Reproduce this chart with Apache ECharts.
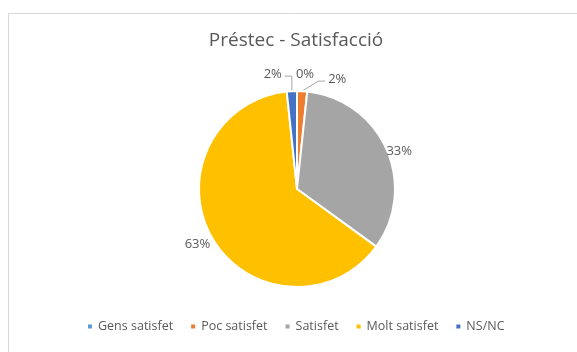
<!DOCTYPE html>
<html>
<head>
<meta charset="utf-8">
<script src="https://cdn.jsdelivr.net/npm/echarts@6/dist/echarts.min.js"></script>
<style>
  html, body { margin: 0; padding: 0; background: #fff; }
  #chart { width: 577px; height: 352px; }
</style>
</head>
<body>
<div id="chart"></div>
<script>
// Préstec – grau de satisfacció (respostes)
const categories = ['Gens satisfet', 'Poc satisfet', 'Satisfet', 'Molt satisfet', 'NS/NC'];
const responses = [0, 1, 20, 38, 1];
const sliceColors = ['#5B9BD5', '#ED7D31', '#A5A5A5', '#FFC000', '#4472C4'];
const chartTitle = 'Préstec - Satisfacció';

const total = responses.reduce((a, b) => a + b, 0);
const textColor = '#595959';
const font = '"Open Sans", "Liberation Sans", sans-serif';

// Large slices get a plain label next to the arc; thin slices get a leader line.
const pieData = categories.map((name, i) => {
  const big = responses[i] / total > 0.1;
  return {
    name,
    value: responses[i],
    itemStyle: { color: sliceColors[i] },
    label: big ? { distanceToLabelLine: 1 } : {},
    labelLine: big ? { show: false, length: 1, length2: 0 } : { show: responses[i] > 0, length: 12, length2: 8 }
  };
});

// Lay out the crowded labels around the top of the pie, starting from the arc point
// of each slice that ECharts computes.
function pieLabelLayout(params) {
  const share = responses[params.dataIndex] / total;
  if (share > 0.1) {
    // nudge the big labels slightly downwards, like a best-fit placement
    return { dy: share > 0.5 ? 6 : 3, dx: share > 0.5 ? 0 : -2 };
  }
  if (!params.labelLinePoints) return {};
  const a = params.labelLinePoints[0];
  if (responses[params.dataIndex] === 0) {
    return { x: a[0] + 8, y: a[1] - 17, align: 'center', verticalAlign: 'middle', labelLinePoints: [a, a, a] };
  }
  const left = params.dataIndex === categories.length - 1;
  if (left) {
    const p1 = [a[0], a[1] - 15];
    const p2 = [p1[0] - 7, p1[1]];
    return { x: p2[0] - 3, y: p1[1] - 2, align: 'right', verticalAlign: 'middle', labelLinePoints: [a, p1, p2] };
  }
  const p1 = [a[0] + 16, a[1] - 10];
  const p2 = [p1[0] + 7, p1[1]];
  return { x: p2[0] + 3, y: p1[1] - 2, align: 'left', verticalAlign: 'middle', labelLinePoints: [a, p1, p2] };
}

const chart = echarts.init(document.getElementById('chart'), null, { renderer: 'canvas' });
chart.setOption({
  animation: false,
  backgroundColor: '#fff',
  graphic: [{
    type: 'rect',
    shape: { x: 8.5, y: 13.5, width: 600, height: 400 },
    style: { fill: 'none', stroke: '#D9D9D9', lineWidth: 1 },
    silent: true
  }],
  title: {
    text: chartTitle,
    left: 291,
    textAlign: 'center',
    top: 26,
    textStyle: { color: textColor, fontFamily: font, fontWeight: 'normal', fontSize: 19 }
  },
  legend: {
    data: categories,
    bottom: 14,
    left: 81,
    itemWidth: 6,
    itemHeight: 6,
    itemGap: 16,
    icon: 'rect',
    textStyle: { color: textColor, fontFamily: font, fontSize: 12.5 }
  },
  series: [{
    type: 'pie',
    center: [297, 189],
    radius: 98,
    startAngle: 90,
    clockwise: true,
    minShowLabelAngle: 0,
    avoidLabelOverlap: false,
    stillShowZeroSum: true,
    itemStyle: { borderColor: '#fff', borderWidth: 2 },
    label: {
      show: true,
      position: 'outside',
      formatter: p => Math.round(p.value / total * 100) + '%',
      color: textColor,
      fontFamily: font,
      fontSize: 13
    },
    labelLine: { lineStyle: { color: '#A6A6A6', width: 1 } },
    labelLayout: pieLabelLayout,
    emphasis: { disabled: true },
    data: pieData
  }]
});
</script>
</body>
</html>
